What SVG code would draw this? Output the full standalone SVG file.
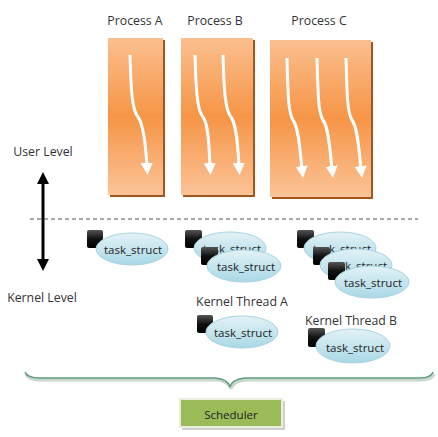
<svg xmlns="http://www.w3.org/2000/svg" width="438" height="437" viewBox="0 0 438 437">
<style>
.lbl{font-family:"Open Sans","Noto Sans","Liberation Sans",sans-serif;font-size:12.3px;fill:#333;text-anchor:middle;dominant-baseline:central}
.thr{fill:none;stroke:#fff;stroke-width:3;marker-end:url(#ah)}
.proc{fill:url(#og)}
.shd{fill:#a0561e}
.ell{fill:url(#eg);stroke:#a9d3e0;stroke-width:1}
.sq{fill:url(#sg)}
.ts{font-family:"Open Sans","Noto Sans","Liberation Sans",sans-serif;font-size:11.5px;fill:#222;text-anchor:middle;dominant-baseline:central}
</style>
<defs>
<linearGradient id="og" x1="0" y1="0" x2="0" y2="1">
<stop offset="0" stop-color="#fbbf8f"/>
<stop offset="0.5" stop-color="#f69546"/>
<stop offset="1" stop-color="#fbc397"/>
</linearGradient>
<linearGradient id="eg" x1="0" y1="0" x2="0" y2="1">
<stop offset="0" stop-color="#e3f2f6"/>
<stop offset="1" stop-color="#a9d8e6"/>
</linearGradient>
<linearGradient id="sg" x1="0" y1="0" x2="0" y2="1">
<stop offset="0" stop-color="#555"/>
<stop offset="0.5" stop-color="#111"/>
<stop offset="1" stop-color="#000"/>
</linearGradient>
<marker id="ah" markerWidth="4" markerHeight="4" refX="1" refY="2" orient="auto" markerUnits="strokeWidth">
<path d="M0,0 L4,2 L0,4 Z" fill="#fff"/>
</marker>
<marker id="ba" markerWidth="4" markerHeight="4" refX="1" refY="2" orient="auto-start-reverse" markerUnits="strokeWidth">
<path d="M0,0 L4,2 L0,4 Z" fill="#000"/>
</marker>
</defs>

<g id="process-a">
<rect class="shd" x="110" y="40" width="55" height="157"/>
<rect class="proc" x="108" y="38" width="55" height="157"/>
<path class="thr" d="M130,55 C131,90 132,110 138,117 C144,125 146,150 147,166"/>
<text class="lbl" x="135" y="20">Process A</text>
</g>
<g id="process-b">
<rect class="shd" x="183" y="40" width="72" height="157"/>
<rect class="proc" x="181" y="38" width="72" height="157"/>
<path class="thr" d="M195,55 C196,90 197,110 203,117 C209,125 209,150 210,166"/>
<path class="thr" d="M223,55 C224,90 225,110 231,117 C237,125 238,150 239,166"/>
<text class="lbl" x="215" y="20">Process B</text>
</g>
<g id="process-c">
<rect class="shd" x="272" y="42" width="101" height="157"/>
<rect class="proc" x="270" y="40" width="101" height="157"/>
<path class="thr" d="M287,58 C288,92 288,112 293,120 C299,128 300,152 302,169"/>
<path class="thr" d="M317,58 C318,92 318,112 323,120 C329,128 330,152 332,169"/>
<path class="thr" d="M346,58 C347,92 347,112 352,120 C358,128 359,152 361,169"/>
<text class="lbl" x="319" y="20">Process C</text>
</g>

<g id="levels">
<text class="lbl" x="43" y="151">User Level</text>
<text class="lbl" x="42" y="297">Kernel Level</text>
<line x1="43" y1="181" x2="43" y2="262" stroke="#000" stroke-width="3" marker-start="url(#ba)" marker-end="url(#ba)"/>
</g>

<g id="connectors">
<line x1="30" y1="219" x2="418" y2="219" stroke="#555" stroke-width="1" stroke-dasharray="4,3"/>
<path d="M26,374 Q28,380 42,380 L216,380 Q229,381 231,389 Q233,381 246,380 L420,380 Q432,380 434,374" fill="none" stroke="#c8d8cc" stroke-width="3"/>
<path d="M25,372 Q27,378 40,378 L215,378 Q228,379 230,387 Q232,379 245,378 L420,378 Q431,378 433,372" fill="none" stroke="#5e9c7c" stroke-width="1.5"/>
</g>

<g id="ts-a">
<rect class="sq" x="87" y="230" width="16" height="18" rx="2"/>
<ellipse class="ell" cx="132" cy="249" rx="36" ry="16"/>
<text class="ts" x="133" y="249">task_struct</text>
</g>
<g id="ts-b1">
<rect class="sq" x="185" y="230" width="17" height="18" rx="2"/>
<ellipse class="ell" cx="230" cy="248" rx="36" ry="16"/>
<text class="ts" x="232" y="248">task_struct</text>
</g>
<g id="ts-b2">
<rect class="sq" x="201" y="247" width="17" height="18" rx="2"/>
<ellipse class="ell" cx="244" cy="266" rx="37" ry="16"/>
<text class="ts" x="246" y="266">task_struct</text>
</g>
<g id="ts-c1">
<rect class="sq" x="297" y="230" width="17" height="18" rx="2"/>
<ellipse class="ell" cx="340" cy="248" rx="36" ry="16"/>
<text class="ts" x="342" y="248">task_struct</text>
</g>
<g id="ts-c2">
<rect class="sq" x="313" y="247" width="17" height="18" rx="2"/>
<ellipse class="ell" cx="356" cy="265" rx="36" ry="16"/>
<text class="ts" x="358" y="265">task_struct</text>
</g>
<g id="ts-c3">
<rect class="sq" x="328" y="262" width="17" height="18" rx="2"/>
<ellipse class="ell" cx="372" cy="282" rx="37" ry="16"/>
<text class="ts" x="373" y="282">task_struct</text>
</g>
<g id="kthread-a">
<text class="lbl" x="242" y="301">Kernel Thread  A</text>
<rect class="sq" x="197" y="315" width="16" height="18" rx="2"/>
<ellipse class="ell" cx="242" cy="332" rx="36" ry="16"/>
<text class="ts" x="243" y="332">task_struct</text>
</g>
<g id="kthread-b">
<text class="lbl" x="351" y="320">Kernel Thread  B</text>
<rect class="sq" x="308" y="328" width="17" height="19" rx="2"/>
<ellipse class="ell" cx="353" cy="346" rx="37" ry="17"/>
<text class="ts" x="355" y="347">task_struct</text>
</g>

<g id="scheduler">
<rect x="182" y="401" width="103" height="29" fill="#d0d0d0"/>
<rect x="180" y="399" width="102" height="28" fill="#9bbb59" stroke="#e8efdc" stroke-width="2"/>
<text class="ts" x="231" y="414">Scheduler</text>
</g>
</svg>
